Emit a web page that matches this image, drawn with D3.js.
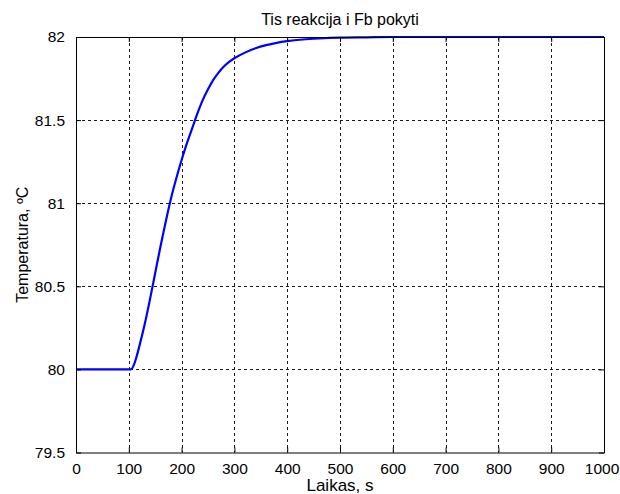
<!DOCTYPE html>
<html>
<head>
<meta charset="utf-8">
<script src="https://cdn.jsdelivr.net/npm/d3@7"></script>
<style>
  html, body { margin: 0; padding: 0; background: #ffffff; }
  text { font-family: "Liberation Sans", Arial, Helvetica, sans-serif; fill: #000; }
</style>
</head>
<body>
<svg id="chart" width="620" height="494"></svg>
<script>
// ---- data ----
const chartTitle = "Tis reakcija i Fb pokyti";
const xLabel = "Laikas, s";
const yLabel = "Temperatura, ºC";
const xTicks = [0, 100, 200, 300, 400, 500, 600, 700, 800, 900, 1000];
const yTicks = [79.5, 80, 80.5, 81, 81.5, 82];
const timeValues = [0, 100, 104, 110, 115, 120, 130, 140, 150, 160, 170, 180, 190, 200, 210, 220, 230, 240, 250, 260, 270, 280, 290, 300, 320, 340, 360, 380, 400, 430, 460, 500, 550, 600, 1000];
const tempValues = [80, 80, 80, 80.03, 80.08, 80.14, 80.27, 80.42, 80.58, 80.74, 80.89, 81.03, 81.15, 81.26, 81.36, 81.45, 81.54, 81.62, 81.685, 81.742, 81.786, 81.822, 81.85, 81.872, 81.906, 81.932, 81.951, 81.965, 81.975, 81.985, 81.991, 81.996, 81.998, 82, 82];

// ---- layout ----
const svg = d3.select("#chart");
const mLeft = 76, mRight = 604, mTop = 37, mBottom = 452.5;
const x = d3.scaleLinear().domain([0, 1000]).range([mLeft, mRight]);
const y = d3.scaleLinear().domain([79.5, 82]).range([mBottom, mTop]);

// grid
const grid = svg.append("g").attr("stroke", "#1a1a1a").attr("stroke-width", 1).attr("stroke-dasharray", "3,3");
grid.selectAll("line.gx").data(xTicks.slice(1, -1)).enter().append("line")
  .attr("x1", d => Math.round(x(d)) + 0.5).attr("x2", d => Math.round(x(d)) + 0.5)
  .attr("y1", mTop).attr("y2", mBottom);
grid.selectAll("line.gy").data(yTicks.slice(1, -1)).enter().append("line")
  .attr("y1", d => Math.round(y(d)) + 0.5).attr("y2", d => Math.round(y(d)) + 0.5)
  .attr("x1", mLeft).attr("x2", mRight);

// data line
const line = d3.line().x((d, i) => x(timeValues[i])).y(d => y(d)).curve(d3.curveMonotoneX);
svg.append("path").datum(tempValues)
  .attr("fill", "none").attr("stroke", "#0000ff").attr("stroke-width", 2.2)
  .attr("stroke-linejoin", "round")
  .attr("d", line);

// axes (MATLAB-like, ticks inside)
const tickLen = 5;
const xAxisB = d3.axisBottom(x).tickValues(xTicks).tickSizeInner(-tickLen).tickSizeOuter(0).tickPadding(10).tickFormat(d3.format("d"));
const xAxisT = d3.axisTop(x).tickValues(xTicks).tickSizeInner(-tickLen).tickSizeOuter(0).tickFormat("");
const yAxisL = d3.axisLeft(y).tickValues(yTicks).tickSizeInner(-tickLen).tickSizeOuter(0).tickPadding(11).tickFormat(d => String(d));
const yAxisR = d3.axisRight(y).tickValues(yTicks).tickSizeInner(-tickLen).tickSizeOuter(0).tickFormat("");

function styleAxis(g) {
  g.select(".domain").attr("stroke", "#000").attr("stroke-width", 1);
  g.selectAll(".tick line").attr("stroke", "#000");
  g.selectAll(".tick text").attr("font-family", "Liberation Sans, Arial, sans-serif").attr("font-size", 15.5).attr("fill", "#000");
}
const gxb = svg.append("g").attr("transform", `translate(0,${mBottom})`).call(xAxisB).call(styleAxis);
// keep the last tick label inside the window, as in the reference
gxb.selectAll(".tick text").filter(d => d === xTicks[xTicks.length - 1]).attr("dx", -2.5);
svg.append("g").attr("transform", `translate(0,${mTop})`).call(xAxisT).call(styleAxis);
svg.append("g").attr("transform", `translate(${mLeft},0)`).call(yAxisL).call(styleAxis);
svg.append("g").attr("transform", `translate(${mRight},0)`).call(yAxisR).call(styleAxis);

// labels
svg.append("text").attr("x", (mLeft + mRight) / 2).attr("y", 25).attr("text-anchor", "middle")
  .attr("font-size", 16).text(chartTitle);
svg.append("text").attr("x", (mLeft + mRight) / 2).attr("y", 491).attr("text-anchor", "middle")
  .attr("font-size", 17).text(xLabel);
svg.append("text").attr("transform", `translate(28,${(mTop + mBottom) / 2}) rotate(-90)`).attr("text-anchor", "middle")
  .attr("font-size", 16).text(yLabel);
</script>
</body>
</html>
